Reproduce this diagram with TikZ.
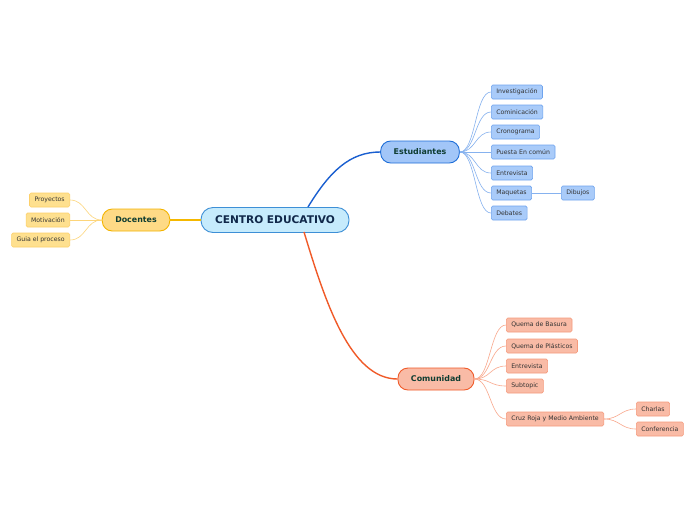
\documentclass[tikz,border=0pt]{standalone}
\usepackage{fontspec}
\setmainfont{DejaVu Sans}
\definecolor{cfill}{HTML}{C6EBFC}
\definecolor{cdraw}{HTML}{3D8FD6}
\definecolor{ctext}{HTML}{10284A}
\definecolor{tgreen}{HTML}{0F3D32}
\definecolor{leaftext}{HTML}{333333}
\definecolor{bfill}{HTML}{A2C6F8}
\definecolor{bdraw}{HTML}{1E6ED8}
\definecolor{blfill}{HTML}{A9CBF9}
\definecolor{bldraw}{HTML}{6FA4EE}
\definecolor{bline}{HTML}{1A5FD0}
\definecolor{blline}{HTML}{86B2EF}
\definecolor{yfill}{HTML}{FEDA86}
\definecolor{ydraw}{HTML}{F4B400}
\definecolor{ylfill}{HTML}{FEE08F}
\definecolor{yldraw}{HTML}{FDD06A}
\definecolor{yline}{HTML}{F5B800}
\definecolor{ylline}{HTML}{FDD57A}
\definecolor{ofill}{HTML}{F9BBA6}
\definecolor{odraw}{HTML}{F05A28}
\definecolor{olfill}{HTML}{F9BBA6}
\definecolor{oldraw}{HTML}{F59A7C}
\definecolor{oline}{HTML}{F05A28}
\definecolor{olline}{HTML}{F9A88D}
\begin{document}
\begin{tikzpicture}[x=1pt,y=-1pt,
  central/.style={draw=cdraw,fill=cfill,line width=0.9pt,rounded corners=12pt,minimum height=25pt,inner xsep=14pt,text=ctext,font=\fontsize{10.6}{12}\selectfont\bfseries},
  topic/.style={rounded corners=10pt,minimum height=22pt,inner xsep=13pt,line width=0.9pt,text=tgreen,font=\fontsize{7.9}{9}\selectfont\bfseries},
  leaf/.style={rounded corners=1.5pt,minimum height=14pt,inner xsep=5pt,inner ysep=0pt,line width=0.6pt,text=leaftext,font=\fontsize{6.2}{7}\selectfont},
  bt/.style={topic,draw=bdraw,fill=bfill},
  bl/.style={leaf,draw=bldraw,fill=blfill},
  yt/.style={topic,draw=ydraw,fill=yfill},
  yl/.style={leaf,draw=yldraw,fill=ylfill},
  ot/.style={topic,draw=odraw,fill=ofill},
  ol/.style={leaf,draw=oldraw,fill=olfill},
  bcon/.style={draw=blline,line width=0.6pt},
  ycon/.style={draw=ylline,line width=0.6pt},
  ocon/.style={draw=olline,line width=0.6pt}]
\path[use as bounding box,fill=white] (0,0) rectangle (696,520);
\begin{scope}[yshift=-1pt]
% central
\node[central] (c) at (275,219) {CENTRO EDUCATIVO};
% topics
\node[bt] (est) at (420,151) {Estudiantes};
\node[yt] (doc) at (136,219) {Docentes};
\node[ot] (com) at (436,378) {Comunidad};

% main connectors
\coordinate (cs1) at (308,206);
\coordinate (cs2) at (304,231);
\draw[draw=bline,line width=1.4pt] (cs1) .. controls (330,170) and (350,151) .. (est.west);
\draw[draw=oline,line width=1.4pt] (cs2) .. controls (325,300) and (350,378) .. (com.west);
\draw[draw=yline,line width=1.4pt] (doc.east) -- (c.west);

% Estudiantes leaves
\node[bl,anchor=west] (e1) at (491,91) {Investigación};
\node[bl,anchor=west] (e2) at (491,111) {Cominicación};
\node[bl,anchor=west] (e3) at (491,131) {Cronograma};
\node[bl,anchor=west] (e4) at (491,151) {Puesta En común};
\node[bl,anchor=west] (e5) at (491,172) {Entrevista};
\node[bl,anchor=west] (e6) at (491,192) {Maquetas};
\node[bl,anchor=west] (e7) at (491,212) {Debates};
\node[bl,anchor=west] (e8) at (561,192) {Dibujos};
\foreach \n in {e1,e2,e3,e4,e5,e6,e7}
  \draw[bcon] (est.east) .. controls +(16,0) and +(-16,0) .. (\n.west);
\draw[bcon] (e6.east) -- (e8.west);

% Docentes leaves
\node[yl,anchor=east] (d1) at (70,199) {Proyectos};
\node[yl,anchor=east] (d2) at (70,219) {Motivación};
\node[yl,anchor=east] (d3) at (70,239) {Guia el proceso};
\foreach \n in {d1,d2,d3}
  \draw[ycon] (doc.west) .. controls +(-16,0) and +(16,0) .. (\n.east);

% Comunidad leaves
\node[ol,anchor=west] (o1) at (506,324) {Quema de Basura};
\node[ol,anchor=west] (o2) at (506,345) {Quema de Plásticos};
\node[ol,anchor=west] (o3) at (506,365) {Entrevista};
\node[ol,anchor=west] (o4) at (506,385) {Subtopic};
\node[ol,anchor=west] (o5) at (506,418) {Cruz Roja y Medio Ambiente};
\node[ol,anchor=west] (o6) at (636,408) {Charlas};
\node[ol,anchor=west] (o7) at (636,428) {Conferencia};
\foreach \n in {o1,o2,o3,o4,o5}
  \draw[ocon] (com.east) .. controls +(16,0) and +(-16,0) .. (\n.west);
\foreach \n in {o6,o7}
  \draw[ocon] (o5.east) .. controls +(15,0) and +(-15,0) .. (\n.west);
\end{scope}
\end{tikzpicture}
\end{document}
